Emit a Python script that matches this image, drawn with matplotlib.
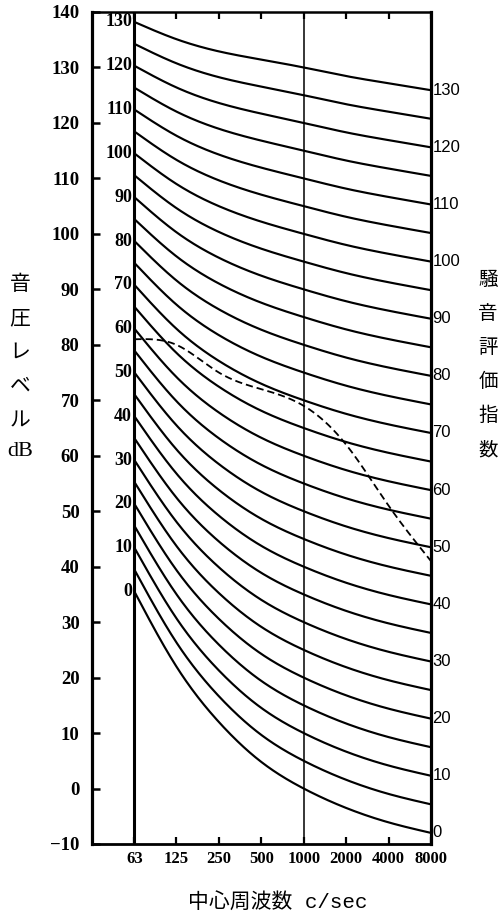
import numpy as np
import matplotlib
matplotlib.use("Agg")
import matplotlib.pyplot as plt

# Octave-band centre frequencies (Hz) and their tick labels
freqs = [63, 125, 250, 500, 1000, 2000, 4000, 8000]
freq_labels = ["63", "125", "250", "500", "1000", "2000", "4000", "8000"]

# Noise-rating curves: L = a + b * N for each octave band
nr_a = [35.5, 22.0, 12.0, 4.8, 0.0, -3.5, -6.1, -8.0]
nr_b = [0.790, 0.870, 0.930, 0.974, 1.000, 1.015, 1.025, 1.030]
nr_levels = list(range(0, 135, 5))
nr_labelled = list(range(0, 135, 10))

# Example measured noise spectrum (dB per octave band)
spectrum = [81, 80, 75, 72, 69, 62, 51, 41]

y_ticks = list(range(-10, 150, 10))


def smooth(xs, ys, n=300):
    """Natural cubic spline through the points, in log2 frequency."""
    x = np.log2(np.asarray(xs, dtype=float))
    y = np.asarray(ys, dtype=float)
    h = np.diff(x)
    m = len(x)
    A = np.zeros((m, m))
    r = np.zeros(m)
    A[0, 0] = 1.0
    A[-1, -1] = 1.0
    for i in range(1, m - 1):
        A[i, i - 1] = h[i - 1]
        A[i, i] = 2 * (h[i - 1] + h[i])
        A[i, i + 1] = h[i]
        r[i] = 3 * ((y[i + 1] - y[i]) / h[i] - (y[i] - y[i - 1]) / h[i - 1])
    c = np.linalg.solve(A, r)
    b = (y[1:] - y[:-1]) / h - h * (2 * c[:-1] + c[1:]) / 3
    d = (c[1:] - c[:-1]) / (3 * h)
    xf = np.linspace(x[0], x[-1], n)
    idx = np.clip(np.searchsorted(x, xf) - 1, 0, m - 2)
    dx = xf - x[idx]
    yf = y[idx] + b[idx] * dx + c[idx] * dx ** 2 + d[idx] * dx ** 3
    return 2 ** xf, yf


num_font = "Liberation Serif"
cjk = ["Noto Sans CJK JP", "DejaVu Sans"]

fig = plt.figure(figsize=(5.03, 9.16), dpi=100)
ax = fig.add_axes([92 / 503, 1 - 844 / 916, (431 - 92) / 503, (844 - 12) / 916])

ax.set_xscale("log", base=2)
ax.set_xlim(31.5, 8000)
ax.set_ylim(-10, 140)

a = np.array(nr_a)
b = np.array(nr_b)
for n in nr_levels:
    levels = a + b * n
    xs, ys = smooth(freqs, levels)
    ax.plot(xs, ys, color="black", lw=1.55, solid_capstyle="butt", zorder=3)
    if n in nr_labelled:
        ax.text(60.5, levels[0], str(n), ha="right", va="center",
                fontsize=13, family=num_font, fontweight="bold")
        ax.text(8200, levels[-1], str(n), ha="left", va="center",
                fontsize=12, family="Liberation Sans", clip_on=False)

# example spectrum
xs, ys = smooth(freqs, spectrum)
ax.plot(xs, ys, color="black", lw=1.3, dashes=(4, 2.2), zorder=4)

# reference verticals at 63 Hz and 1000 Hz
ax.axvline(63, color="black", lw=2.2, zorder=5)
ax.axvline(1000, color="black", lw=1.1, zorder=5)

for side, w in (("left", 2.3), ("right", 2.3), ("bottom", 2.0), ("top", 1.8)):
    ax.spines[side].set_linewidth(w)

ax.set_yticks(y_ticks)
ax.set_yticklabels([("\u2212" + str(-v)) if v < 0 else str(v) for v in y_ticks],
                   family=num_font, fontweight="bold", fontsize=13.5)
ax.tick_params(axis="y", direction="in", length=6, width=1.8, pad=9,
               left=True, right=False)

ax.set_xticks(freqs)
ax.set_xticklabels(freq_labels, family=num_font, fontweight="bold", fontsize=12)
ax.xaxis.set_minor_locator(matplotlib.ticker.NullLocator())
ax.tick_params(axis="x", direction="in", length=5, width=1.6, pad=5,
               top=True, bottom=True)

# axis titles, set vertically one character per line
left_title = ["音", "圧", "レ", "ベ", "ル"]
for i, ch in enumerate(left_title):
    fig.text(20 / 503, 1 - (284 + 34 * i) / 916, ch, ha="center", va="center",
             fontsize=15, family=cjk)
fig.text(20 / 503, 1 - 452 / 916, "dB", ha="center", va="center",
         fontsize=16, family="Liberation Serif")

right_title = ["騒", "音", "評", "価", "指", "数"]
for i, ch in enumerate(right_title):
    fig.text(488 / 503, 1 - (279 + 34.2 * i) / 916, ch, ha="center", va="center",
             fontsize=14, family=cjk)

fig.text(278 / 503, 1 - 902 / 916, "中心周波数 c/sec", ha="center", va="center",
         fontsize=15, family=["Liberation Mono", "Noto Sans CJK JP"])

fig.savefig("out.png", dpi=100)
